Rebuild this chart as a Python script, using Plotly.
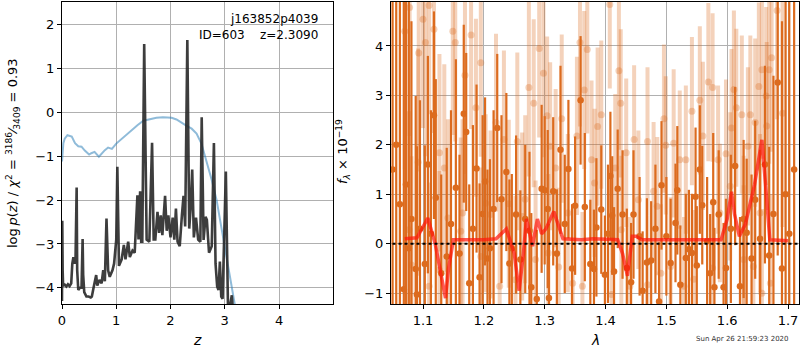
import plotly.graph_objects as go

# ---------------- left panel: p(z) ----------------
z_pz = [0.0, 0.005, 0.012, 0.02, 0.05, 0.08, 0.11, 0.14, 0.17, 0.19, 0.21, 0.23, 0.25, 0.27, 0.28, 0.30, 0.33, 0.36, 0.38, 0.39, 0.41,
        0.45, 0.49, 0.53, 0.55, 0.59, 0.63, 0.65, 0.69, 0.73, 0.76, 0.79, 0.82, 0.85, 0.88, 0.93, 0.96, 1.0, 1.02, 1.05,
        1.1, 1.14, 1.17, 1.22, 1.25, 1.3, 1.34, 1.39, 1.41, 1.44, 1.46, 1.48, 1.515, 1.56, 1.61, 1.66, 1.69, 1.72, 1.76,
        1.79, 1.82, 1.85, 1.9, 1.93, 1.96, 2.0, 2.04, 2.07, 2.1, 2.13, 2.17, 2.21, 2.24, 2.27, 2.31, 2.345, 2.37, 2.4,
        2.43, 2.47, 2.51, 2.55, 2.575, 2.61, 2.645, 2.67, 2.71, 2.76, 2.8, 2.83, 2.86, 2.885, 2.91, 2.935, 2.96, 3.02,
        3.06, 3.09, 3.13, 3.15, 3.2, 3.5, 4.0, 5.0]
logp = [-4.3, -2.47, -3.6, -3.95, -3.93, -3.97, -3.92, -3.96, -3.9, -3.45, -3.3, -3.45, -3.3, -1.71, -3.6, -4.05, -4.0, -4.0, -2.89, -3.7, -4.1,
        -4.2, -4.2, -4.22, -4.2, -3.95, -3.71, -3.95, -3.82, -3.9, -3.6, -3.85, -2.42, -3.6, -3.75, -3.6, -3.45, -2.9, -1.24, -3.5,
        -3.35, -3.02, -3.35, -2.95, -3.3, -3.15, -3.2, -1.89, -2.9, -1.8, -2.95, -2.95, 1.56, -2.9, -2.95, -0.69, -2.9, -2.9, -2.27,
        -2.75, -2.35, -2.8, -1.9, -2.7, -2.35, -2.85, -2.4, -2.9, -2.19, -2.95, -3.05, -2.35, -1.9, -2.6, 1.65, -2.65, -2.2, -1.3,
        -2.85, -2.4, -2.9, -2.95, -0.11, -2.91, -2.38, -2.45, -3.2, -3.05, -0.7, -3.45, -3.97, -4.05, -3.4, -4.2, -4.25, -1.35,
        -4.5, -4.45, -4.17, -4.5, -6.0, -9.0, -12.0, -20.0]

z_chi = [0.0, 0.01, 0.025, 0.05, 0.1, 0.18, 0.24, 0.3, 0.36, 0.42, 0.5, 0.54, 0.6, 0.68, 0.75, 0.79, 0.85, 0.92, 1.0,
         1.1, 1.19, 1.28, 1.39, 1.5, 1.62, 1.74, 1.86, 2.02, 2.11, 2.2, 2.29, 2.39, 2.48, 2.57, 2.66, 2.76, 2.85, 2.94, 3.03,
         3.12, 3.2, 3.3]
chi_curve = [-1.12, -0.9, -0.7, -0.6, -0.52, -0.55, -0.7, -0.77, -0.78, -0.87, -0.96, -0.93, -0.9, -1.01, -0.9, -0.86, -0.8, -0.83, -0.71,
             -0.6, -0.52, -0.4, -0.29, -0.19, -0.15, -0.12, -0.11, -0.12, -0.16, -0.24, -0.3, -0.37, -0.48, -0.71, -1.09, -1.54, -2.0, -2.61, -3.22,
             -3.9, -4.43, -5.2]

# ---------------- right panel: spectrum ----------------
lam_a = [1.0500, 1.0560, 1.0620, 1.0685, 1.0720, 1.0767, 1.0810, 1.0880, 1.0900, 1.0950, 1.1030, 1.1080, 1.1130, 1.1180, 1.1210, 1.1300, 1.1390, 1.1460,
         1.1540, 1.1600, 1.1670, 1.1710, 1.1760, 1.1820, 1.1880, 1.1930, 1.1980, 1.2020, 1.2060, 1.2100, 1.2160, 1.2220, 1.2290,
         1.2370, 1.2420, 1.2460, 1.2530, 1.2600, 1.2680, 1.2750, 1.2780, 1.2870, 1.2950, 1.3000, 1.3050, 1.3070, 1.3140, 1.3200,
         1.3260, 1.3330, 1.3390, 1.3450, 1.3500, 1.3590, 1.3660, 1.3750, 1.3810, 1.3850, 1.3930, 1.3990, 1.4040, 1.4080, 1.4110,
         1.4140, 1.4200, 1.4280, 1.4350, 1.4420, 1.4460, 1.4560, 1.4610, 1.4680, 1.4750, 1.4820, 1.4880, 1.4920, 1.5000, 1.5070,
         1.5150, 1.5180, 1.5230, 1.5320, 1.5370, 1.5420, 1.5480, 1.5500, 1.5550, 1.5590, 1.5670, 1.5720, 1.5770, 1.5790, 1.5860,
         1.5940, 1.5980, 1.6060, 1.6130, 1.6210, 1.6270, 1.6320, 1.6400, 1.6460, 1.6540, 1.6620, 1.6690, 1.6760, 1.6830, 1.6900,
         1.6960, 1.7020, 1.7100]
flux_a = [1.5, 2.0, 0.8, -0.92, 1.2, -0.09, 0.5, -0.51, -1.03, 0.3, -0.41, 1.6, 0.2, 2.6, 0.93, -0.6, -0.26, 0.4,
          1.13, -0.2, 2.63, 2.26, -0.8, 0.3, 1.52, -0.68, 0.6, 1.26, -0.3, -0.09, 0.7, 2.34, 0.9,
          1.45, -0.4, -0.09, 0.59, -0.32, 0.5, 0.26, -0.88, -1.12, 1.11, 1.08, 0.7, -1.1, 1.06, -0.2,
          1.9, 0.4, 1.51, -0.5, 0.77, 2.9, 0.74, -0.41, -0.51, 0.33, 0.69, -0.63, 0.2, 1.37, 0.57,
          -0.56, 1.11, 0.59, -0.49, -0.78, 0.59, 0.15, -0.95, -0.38, -0.34, 0.3, -1.17, 1.18, 0.15, -0.39,
          0.42, 1.08, -0.83, -0.29, -0.11, -0.19, 0.95, -0.44, 1.5, 0.78, 0.05, -0.6, 0.84, -0.88, 0.59,
          -0.88, -0.49, 0.3, 1.57, -0.86, 0.5, 0.22, -0.3, 0.89, 0.1, 1.6, -0.24, 0.6, 3.26, -0.5,
          1.0, 0.2, 1.5]
err_a = [9.0, 9.0, 8.0, 6.0, 5.5, 5.0, 4.0, 3.5, 3.0, 2.6, 2.4, 2.2, 2.5, 2.1, 2.4, 2.0, 2.2, 2.3,
         2.6, 2.0, 1.8, 1.6, 2.0, 2.1, 1.7, 1.9, 2.0, 1.7, 1.8, 1.8, 2.0, 1.5, 1.7,
         1.6, 1.7, 1.5, 1.6, 1.4, 1.5, 1.6, 1.5, 1.4, 1.7, 1.5, 1.6, 1.5, 1.5, 1.3,
         1.7, 1.4, 1.4, 1.3, 1.4, 1.3, 1.5, 1.3, 1.2, 1.4, 1.3, 1.2, 1.4, 1.3, 1.2,
         1.3, 1.2, 1.3, 1.2, 1.2, 1.3, 1.2, 1.2, 1.3, 1.2, 1.3, 1.2, 1.3, 1.2, 1.3,
         1.2, 1.3, 1.2, 1.3, 1.2, 1.2, 1.4, 1.2, 1.3, 1.2, 1.3, 1.2, 1.4, 1.2, 1.3,
         1.3, 1.4, 1.5, 1.6, 1.4, 1.6, 1.5, 1.7, 1.6, 1.8, 2.0, 2.2, 2.8, 3.5, 5.0,
         6.0, 7.0, 9.0]

lam_b = [1.070, 1.077, 1.078, 1.081, 1.092, 1.093, 1.100, 1.104, 1.110, 1.110, 1.118, 1.127, 1.127, 1.135, 1.141,
         1.149, 1.153, 1.162, 1.165, 1.169, 1.179, 1.187, 1.195, 1.195, 1.203, 1.211, 1.220, 1.226, 1.233, 1.241,
         1.252, 1.255, 1.263, 1.268, 1.274, 1.282, 1.285, 1.291, 1.298, 1.304, 1.306, 1.309, 1.318, 1.323, 1.328,
         1.338, 1.346, 1.353, 1.358, 1.362, 1.365, 1.370, 1.377, 1.382, 1.387, 1.393, 1.407, 1.410, 1.416, 1.422,
         1.425, 1.426, 1.434, 1.440, 1.447, 1.454, 1.469, 1.469, 1.479, 1.485, 1.491, 1.496, 1.499, 1.507, 1.512,
         1.522, 1.529, 1.532, 1.542, 1.545, 1.555, 1.560, 1.569, 1.576, 1.576, 1.585, 1.588, 1.598, 1.605, 1.607,
         1.611, 1.615, 1.624, 1.627, 1.627, 1.634, 1.638, 1.643, 1.646, 1.652, 1.654, 1.657, 1.657, 1.664, 1.665,
         1.669, 1.671, 1.673, 1.682, 1.691]
flux_b = [4.3, 0.28, 4.78, -0.43, 1.65, 3.86, 4.54, 4.07, 4.82, -0.86, 4.34, 1.84, -0.53, 1.53, 0.52,
          4.3, 4.07, 0.25, 0.62, 3.41, 4.22, 2.75, 3.66, -0.26, 0.82, 0.59, 2.45, -0.86, 2.11, 0.81,
          -0.73, 2.07, 0.55, 0.9, 3.16, 2.84, -0.32, 3.95, 3.45, 2.59, -0.19, 1.97, 1.53, -0.47, 2.53,
          0.62, -0.8, 2.18, 4.07, -0.86, 3.11, 3.93, 1.7, 1.23, 2.37, 2.61, 4.84, -1.03, 1.53, 3.5,
          2.84, 0.28, 1.84, -0.86, 2.11, 0.89, 2.07, -0.83, 1.06, 0.76, -0.6, 2.53, 1.99, -0.46, 2.03,
          1.7, -0.86, 1.7, 2.68, -0.72, 2.9, 2.18, 3.27, 3.16, -0.49, 1.7, 0.62, 1.82, 1.16, 2.34,
          3.12, 2.75, 2.61, -0.32, 0.28, 1.97, 2.61, -0.46, 2.45, 3.18, 0.62, 3.52, -1.0, 2.99, 2.38,
          3.52, -0.8, 3.76, 4.72, 2.64]
err_b = [2.8, 2.4, 2.6, 2.2, 2.3, 2.4, 2.2, 2.3, 2.2, 2.1, 2.1, 2.0, 2.0, 2.1, 2.0,
         2.1, 2.0, 1.9, 1.9, 2.0, 1.9, 1.8, 1.9, 1.8, 1.8, 1.7, 1.8, 1.7, 1.8, 1.7,
         1.7, 1.8, 1.7, 1.7, 1.8, 1.7, 1.6, 1.8, 1.7, 1.6, 1.6, 1.7, 1.6, 1.6, 1.7,
         1.6, 1.5, 1.6, 1.7, 1.5, 1.6, 1.7, 1.6, 1.5, 1.6, 1.5, 1.7, 1.5, 1.5, 1.6,
         1.5, 1.5, 1.5, 1.4, 1.5, 1.4, 1.5, 1.4, 1.4, 1.4, 1.4, 1.5, 1.4, 1.4, 1.5,
         1.4, 1.4, 1.5, 1.5, 1.4, 1.5, 1.5, 1.6, 1.5, 1.4, 1.5, 1.4, 1.5, 1.5, 1.6,
         1.6, 1.6, 1.6, 1.5, 1.5, 1.6, 1.6, 1.6, 1.7, 1.7, 1.6, 1.8, 1.7, 1.8, 1.7,
         1.9, 1.8, 1.9, 2.2, 2.3]

lam_model = [1.070, 1.090, 1.108, 1.120, 1.137, 1.142, 1.150, 1.200, 1.220, 1.237, 1.250, 1.258, 1.265, 1.270, 1.280,
             1.288, 1.295, 1.302, 1.315, 1.330, 1.360, 1.380, 1.420, 1.428, 1.436, 1.444, 1.450, 1.460, 1.590, 1.600,
             1.607, 1.612, 1.620, 1.630, 1.645, 1.657, 1.663, 1.670, 1.700]
flux_model = [0.1, 0.12, 0.52, 0.0, -1.1, -0.5, 0.08, 0.08, 0.1, 0.3, -0.2, -0.95, -0.2, 0.5, -0.05,
              0.5, 0.2, 0.3, 0.65, 0.1, 0.08, 0.1, 0.08, -0.2, -0.65, 0.15, 0.15, 0.08, 0.08, 0.5,
              1.05, 0.6, 0.15, 0.4, 1.2, 2.1, 1.2, 0.08, 0.06]

ORANGE = "rgb(220,107,30)"
ORANGE_L = "rgba(220,107,30,0.3)"
FONT = "DejaVu Sans"

fig = go.Figure()

fig.add_trace(go.Scatter(x=z_chi, y=chi_curve, mode="lines",
                         line=dict(color="rgba(31,119,180,0.5)", width=2),
                         xaxis="x", yaxis="y", showlegend=False))
fig.add_trace(go.Scatter(x=z_pz, y=logp, mode="lines",
                         line=dict(color="rgba(40,40,40,0.9)", width=2.6),
                         xaxis="x", yaxis="y", showlegend=False))

fig.add_trace(go.Scatter(x=lam_b, y=flux_b, mode="markers",
                         marker=dict(color=ORANGE_L, size=7),
                         error_y=dict(type="data", array=err_b, color=ORANGE_L, thickness=4, width=0),
                         xaxis="x2", yaxis="y2", showlegend=False))
fig.add_trace(go.Scatter(x=lam_a, y=flux_a, mode="markers",
                         marker=dict(color=ORANGE, size=6.5),
                         error_y=dict(type="data", array=err_a, color=ORANGE, thickness=2.2, width=0),
                         xaxis="x2", yaxis="y2", showlegend=False))
fig.add_trace(go.Scatter(x=lam_model, y=flux_model, mode="lines",
                         line=dict(color="rgba(255,20,10,0.7)", width=3.5),
                         xaxis="x2", yaxis="y2", showlegend=False))
fig.add_trace(go.Scatter(x=[1.04, 1.72], y=[0, 0], mode="lines",
                         line=dict(color="black", width=2, dash="dot"),
                         xaxis="x2", yaxis="y2", showlegend=False))

ax_common = dict(showline=True, linecolor="black", linewidth=1, mirror=True,
                 showgrid=True, gridcolor="#b0b0b0", gridwidth=1, automargin=False,
                 ticks="outside", ticklen=4, tickcolor="black",
                 zeroline=False, tickfont=dict(family=FONT, size=13, color="black"))

fig.update_layout(
    width=800, height=350,
    margin=dict(l=0, r=0, t=0, b=0),
    paper_bgcolor="white", plot_bgcolor="white",
    font=dict(family=FONT, color="black"),
    xaxis=dict(domain=[62/800, 333/800], range=[0, 4.995], tickvals=[0, 1, 2, 3, 4], anchor="y", **ax_common),
    yaxis=dict(domain=[1-304/350, 1-2/350], range=[-4.37, 2.52], tickvals=[-4, -3, -2, -1, 0, 1, 2],
               ticktext=["\u22124", "\u22123", "\u22122", "\u22121", "0", "1", "2"], anchor="x", **ax_common),
    xaxis2=dict(domain=[391/800, 799/800], range=[1.0474, 1.718], tickvals=[1.1, 1.2, 1.3, 1.4, 1.5, 1.6, 1.7],
                ticktext=["1.1", "1.2", "1.3", "1.4", "1.5", "1.6", "1.7"], anchor="y2", **ax_common),
    yaxis2=dict(domain=[1-304/350, 1-2/350], range=[-1.22, 4.89], tickvals=[-1, 0, 1, 2, 3, 4],
                ticktext=["\u22121", "0", "1", "2", "3", "4"], anchor="x2", **ax_common),
)

annots = [
    dict(x=320/800, y=1-19/350, text="j163852p4039", xanchor="right", yanchor="middle", font=dict(size=12)),
    dict(x=320/800, y=1-35/350, text="ID=603\u00a0\u00a0\u00a0\u00a0z=2.3090", xanchor="right", yanchor="middle", font=dict(size=12)),
    dict(x=197/800, y=1-340/350, text="<i>z</i>", xanchor="center", yanchor="middle", font=dict(size=14)),
    dict(x=595/800, y=1-340/350, text="<i>λ</i>", xanchor="center", yanchor="middle", font=dict(size=14)),
    dict(x=13/800, y=1-153/350, text="log\u2009<i>p</i>(<i>z</i>) / <i>χ</i><sup>2</sup> = <sup>3186</sup>\u2044<sub>3409</sub> = 0.93",
         textangle=-90, xanchor="center", yanchor="middle", font=dict(size=13)),
    dict(x=343/800, y=1-152/350, text="<i>f</i><sub><i>λ</i></sub> × 10<sup>\u221219</sup>",
         textangle=-90, xanchor="center", yanchor="middle", font=dict(size=13)),
    dict(x=742/800, y=1-339/350, text="Sun Apr 26 21:59:23 2020", xanchor="center", yanchor="middle",
         font=dict(size=7, color="#333333")),
]
for a in annots:
    a.update(xref="paper", yref="paper", showarrow=False)
    fig.add_annotation(**a)

fig.write_html("out.html")
